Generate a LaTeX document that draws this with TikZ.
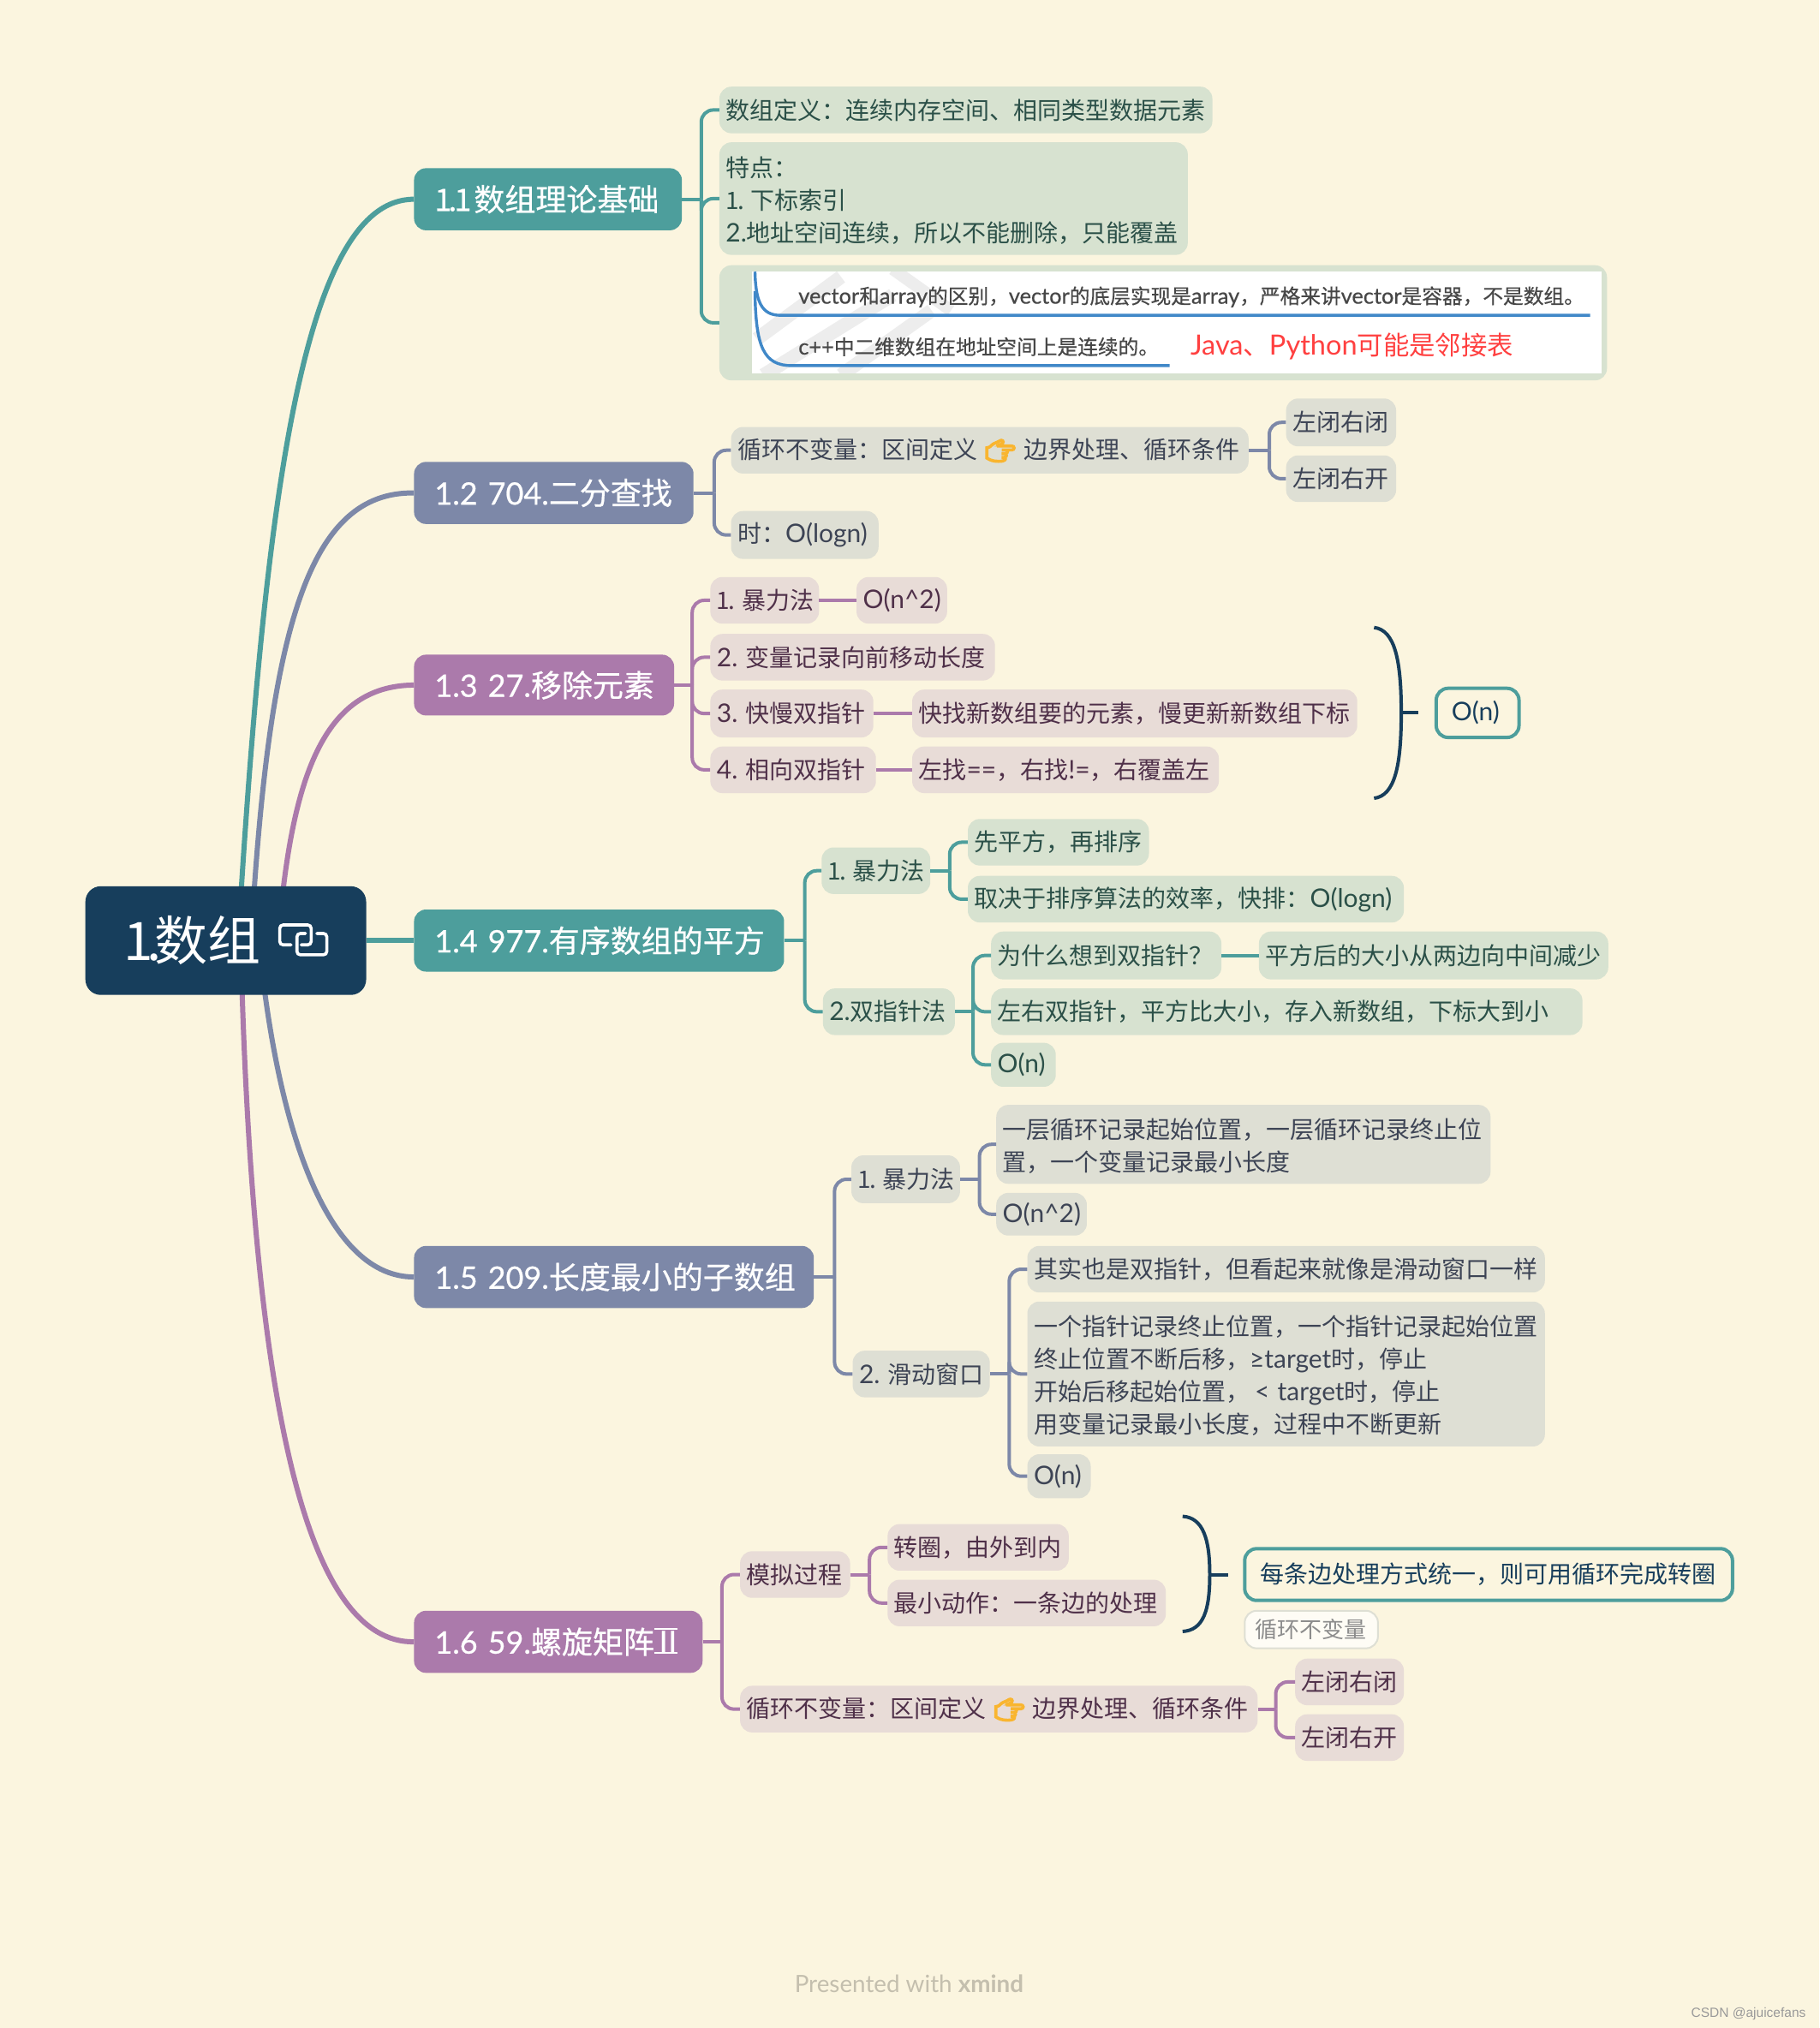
\documentclass[tikz,border=0pt]{standalone}
\usepackage{fontspec}
\setmainfont{Noto Sans CJK SC}
\newfontfamily\lath{Lato}
\newfontfamily\latb[Scale=1.07]{Lato}
\newfontfamily\headf[FakeBold=0.6]{Noto Sans CJK SC}
\newfontfamily\headl[FakeBold=0.6]{Lato}
\newfontfamily\imgf[FakeBold=0.5]{Noto Sans CJK SC}
\newfontfamily\imgl[FakeBold=0.5,Scale=1.07]{Lato}
\let\lat\latb
\newfontfamily\emo[FakeBold=9]{Noto Emoji}
\newfontfamily\markfont{Liberation Sans}
\newcommand{\Lt}[1]{{\lat #1}}
\newcommand{\One}{1\kern-1.5pt.\kern-2pt~}
\definecolor{bg}{HTML}{FBF5DF}
\definecolor{rootc}{HTML}{173E5C}
\definecolor{teal1}{HTML}{4D9E9C}
\definecolor{slate1}{HTML}{7D88A8}
\definecolor{purp1}{HTML}{AB7AAB}
\definecolor{tealL}{HTML}{D7E2D0}
\definecolor{slateL}{HTML}{DEDFD4}
\definecolor{purpL}{HTML}{E8DCD7}
\definecolor{tealT}{HTML}{2B5048}
\definecolor{slateT}{HTML}{3D4455}
\definecolor{purpT}{HTML}{4F3049}
\definecolor{imgblue}{HTML}{4088C8}
\definecolor{handc}{HTML}{F9B52F}
\tikzset{
  base/.style={rounded corners=14pt,inner ysep=0pt,align=left,font=\fontsize{28}{38}\selectfont},
  head/.style={base,font=\fontsize{36}{44}\selectfont,text=white,execute at begin node={\let\lat\headl\headf}},
  hteal/.style={head,fill=teal1},
  hslate/.style={head,fill=slate1},
  hpurp/.style={head,fill=purp1},
  lteal/.style={base,fill=tealL,text=tealT},
  lslate/.style={base,fill=slateL,text=slateT},
  lpurp/.style={base,fill=purpL,text=purpT},
  summ/.style={base,fill=bg,draw=teal1,line width=4pt,text=rootc},
  lab/.style={base,fill=white!70!bg,draw=slateL,line width=2pt,text=black!45,font=\fontsize{26}{32}\selectfont},
  conn/.style={line width=4pt},
  trunk/.style={line width=6pt},
  bracec/.style={line width=4pt,draw=rootc},
  imgtext/.style={inner sep=0pt,anchor=west,text=black!72,font=\fontsize{23.7}{28}\selectfont,execute at begin node={\let\lat\imgl\imgf}},
  foot/.style={inner sep=0pt,anchor=west},
}
\newcommand{\mk}[8]{%
  \pgfmathsetmacro\mkW{(#5-#3)*1.510669}%
  \pgfmathsetmacro\mkH{(#6-#4)*1.510669}%
  \pgfmathsetmacro\mkT{\mkW-2*#1}%
  \node[#7,minimum width=\mkW pt,minimum height=\mkH pt,inner xsep=#1pt,text width=\mkT pt] (#2) at ({(#3+#5)/2},{(#4+#6)/2}) {#8};}
\newcommand{\bx}{\mk{7.5}}
\newcommand{\hdr}{\mk{24}}
\newcommand{\lift}{\rule{0pt}{27.6pt}}
% stub from parent to spine + rounded elbows to children
\newcommand{\stub}[3]{\coordinate (sptmp) at (#3,0); \draw[conn,#1] (#2.east) -- (#2.east -| sptmp);}
\newcommand{\elb}[3]{\draw[conn,#1,rounded corners=14pt] (#2.east -| sptmp) |- (#3.west);}
\newcommand{\str}[3]{\draw[conn,#1] (#2.east) -- (#3.west);}
\begin{document}
\begin{tikzpicture}[x=1.510669pt,y=-1.510669pt]
\fill[bg] (0,0) rectangle (1406,1567.5);
\useasboundingbox (0,0) rectangle (1406,1567.5);

% free starts of the main branches, hidden under the root
\coordinate (rs1) at (184,727);
\coordinate (rs2) at (194,727);
\coordinate (rs3) at (215,727);
\coordinate (rs5) at (200,727);
\coordinate (rs6) at (186,727);

% nodes
\hdr{n11}{320}{130}{527}{178}{hteal}{1\kern-4pt.\kern-3pt 1\kern-9pt~数组理论基础}
\hdr{n12}{320}{357}{536}{405}{hslate}{\Lt{1.2~704.}二分查找}
\hdr{n13}{320}{506}{521}{553}{hpurp}{\Lt{1.3~27.}移除元素}
\hdr{n14}{320}{703}{606}{751}{hteal}{\Lt{1.4~977.}有序数组的平方}
\hdr{n15}{320}{963}{629}{1011}{hslate}{\Lt{1.5~209.}长度最小的子数组}
\hdr{n16}{320}{1245}{543}{1293}{hpurp}{\Lt{1.6~59.}螺旋矩阵\kern-2pt Ⅱ}
% serifs of the roman numeral
\draw[white,line width=2.5pt] (505.7,1259) -- (523.6,1259);
\draw[white,line width=2.5pt] (505.7,1277.6) -- (523.6,1277.6);

% root connectors
\draw[trunk,teal1] (rs1) .. controls (205,380) and (235,154) .. (n11.west);
\draw[trunk,slate1] (rs2) .. controls (208,480) and (240,380) .. (n12.west);
\draw[trunk,purp1] (rs3) .. controls (225,600) and (250,530) .. (n13.west);
\draw[trunk,slate1] (rs5) .. controls (215,880) and (255,987) .. (n15.west);
\draw[trunk,purp1] (rs6) .. controls (195,1100) and (240,1270) .. (n16.west);

\mk{45}{root}{66}{685}{283}{769}{base,rounded corners=18pt,fill=rootc,text=white,font=\fontsize{62}{70}\selectfont}{1\kern-8pt.\kern-8pt 数组}
\draw[trunk,teal1] (root.east) -- (n14.west);
% link icon
\draw[white,line width=3.6pt,rounded corners=4pt,line cap=round] (225,730.3) -- (216.2,730.3) -- (216.2,714.9) -- (240.5,714.9) -- (240.5,730.3) -- (232.8,730.3);
\draw[white,line width=3.6pt,rounded corners=4pt,line cap=round] (236.1,721.5) -- (229.5,721.5) -- (229.5,738) -- (252.6,738) -- (252.6,721.5) -- (244.9,721.5);

% 1.1
\bx{a1}{556}{67}{937}{103}{lteal}{数组定义：连续内存空间、相同类型数据元素}
\bx{a2}{556}{110}{918}{197}{lteal}{\lift 特点：\\\One 下标索引\\\Lt{2.}地址空间连续，所以不能删除，只能覆盖}
\bx{a3}{556}{205}{1242}{294}{base,fill=tealL}{}
\stub{teal1}{n11}{542}
\elb{teal1}{n11}{a1}\elb{teal1}{n11}{a2}\elb{teal1}{n11}{a3}
% image inside a3
\begin{scope}
\clip (581,210) rectangle (1238,288.6);
\fill[white] (581,210) rectangle (1238,288.6);
\draw[black!7,line width=16pt] (585,262) -- (650,214);
\draw[black!7,line width=16pt] (590,290) -- (690,228);
\draw[black!7,line width=16pt] (650,290) -- (720,240);
\draw[black!7,line width=14pt] (690,208) -- (735,240);
\draw[imgblue,line width=3.4pt] (583.5,210) .. controls (584,232) and (588,243.7) .. (603,243.7) -- (1229,243.7);
\draw[imgblue,line width=3.4pt] (583.5,225) .. controls (584,268) and (590,282.6) .. (612,282.6) -- (904,282.6);
\end{scope}
\node[imgtext] (i1) at (617,229.5) {\Lt{vector}和\Lt{array}的区别，\Lt{vector}的底层实现是\Lt{array}，严格来讲\Lt{vector}是容器，不是数组。};
\node[imgtext] (i2) at (617,268) {\Lt{c++}中二维数组在地址空间上是连续的。};
\node[inner sep=0pt,anchor=west,text=red!75!white,font=\fontsize{30.4}{36}\selectfont] (i3) at (920,268) {\Lt{Java}、\Lt{Python}可能是邻接表};

% 1.2
\bx{b1}{565}{330}{965}{366}{lslate}{循环不变量：区间定义~{\emo\color{handc}👉}~边界处理、循环条件}
\bx{b2}{565}{395}{679}{432}{lslate}{时：\Lt{O(logn)}}
\bx{b3}{994}{308}{1079}{345}{lslate}{左闭右闭}
\bx{b4}{994}{352}{1079}{388}{lslate}{左闭右开}
\stub{slate1}{n12}{552}
\elb{slate1}{n12}{b1}\elb{slate1}{n12}{b2}
\stub{slate1}{b1}{981}
\elb{slate1}{b1}{b3}\elb{slate1}{b1}{b4}

% 1.3
\bx{c1}{549}{446}{633}{482}{lpurp}{\One 暴力法}
\bx{c1a}{662}{446}{732}{482}{lpurp}{\Lt{O(n\^{}2)}}
\bx{c2}{549}{490}{769}{526}{lpurp}{\Lt{2.~}变量记录向前移动长度}
\bx{c3}{549}{533}{675}{570}{lpurp}{\Lt{3.~}快慢双指针}
\bx{c3a}{705}{533}{1049}{570}{lpurp}{快找新数组要的元素，慢更新新数组下标}
\bx{c4}{549}{577}{677}{613}{lpurp}{\Lt{4.~}相向双指针}
\bx{c4a}{705}{577}{942}{613}{lpurp}{左找\Lt{==}，右找\Lt{!=}，右覆盖左}
\stub{purp1}{n13}{535}
\elb{purp1}{n13}{c1}\elb{purp1}{n13}{c2}\elb{purp1}{n13}{c3}\elb{purp1}{n13}{c4}
\str{purp1}{c1}{c1a}\str{purp1}{c3}{c3a}\str{purp1}{c4}{c4a}
\mk{18}{c5}{1110}{532}{1174}{570}{summ}{\Lt{O(n)}}
\coordinate (br1t) at (1062,485);
\coordinate (br1m) at (1083,551);
\coordinate (br1b) at (1062,617);
\coordinate (br1x) at (1096,551);
\draw[bracec] (br1t) .. controls (1078,487) and (1083,510) .. (br1m) .. controls (1083,592) and (1078,615) .. (br1b);
\draw[bracec] (br1m) -- (br1x);

% 1.4
\bx{d1}{635}{655}{719}{691}{lteal}{\One 暴力法}
\bx{d2}{636}{764}{738}{800}{lteal}{\Lt{2.}双指针法}
\bx{d1a}{748}{633}{888}{669}{lteal}{先平方，再排序}
\bx{d1b}{748}{677}{1085}{713}{lteal}{取决于排序算法的效率，快排：\Lt{O(logn)}}
\bx{d2a}{766}{720}{944}{757}{lteal}{为什么想到双指针？}
\bx{d2x}{973}{720}{1243}{757}{lteal}{平方后的大小从两边向中间减少}
\bx{d2b}{766}{764}{1223}{800}{lteal}{左右双指针，平方比大小，存入新数组，下标大到小}
\bx{d2c}{766}{806}{816}{840}{lteal}{\Lt{O(n)}}
\stub{teal1}{n14}{622}
\elb{teal1}{n14}{d1}\elb{teal1}{n14}{d2}
\stub{teal1}{d1}{734}
\elb{teal1}{d1}{d1a}\elb{teal1}{d1}{d1b}
\stub{teal1}{d2}{752}
\elb{teal1}{d2}{d2a}\elb{teal1}{d2}{d2b}\elb{teal1}{d2}{d2c}
\str{teal1}{d2a}{d2x}

% 1.5
\bx{e1}{658}{893}{742}{930}{lslate}{\One 暴力法}
\bx{e2}{659}{1044}{765}{1080}{lslate}{\Lt{2.~}滑动窗口}
\bx{e1a}{770}{854}{1152}{915}{lslate}{\lift 一层循环记录起始位置，一层循环记录终止位\\置，一个变量记录最小长度}
\bx{e1b}{770}{922}{840}{955}{lslate}{\Lt{O(n\^{}2)}}
\bx{e2a}{794}{963}{1194}{999}{lslate}{其实也是双指针，但看起来就像是滑动窗口一样}
\bx{e2b}{794}{1006}{1194}{1118}{lslate}{\lift 一个指针记录终止位置，一个指针记录起始位置\\终止位置不断后移，\Lt{≥target}时，停止\\开始后移起始位置，\Lt{\hspace{6pt}<~target}时，停止\\用变量记录最小长度，过程中不断更新}
\bx{e2c}{794}{1124}{843}{1158}{lslate}{\Lt{O(n)}}
\stub{slate1}{n15}{645}
\elb{slate1}{n15}{e1}\elb{slate1}{n15}{e2}
\stub{slate1}{e1}{757}
\elb{slate1}{e1}{e1a}\elb{slate1}{e1}{e1b}
\stub{slate1}{e2}{780}
\elb{slate1}{e2}{e2a}\elb{slate1}{e2}{e2b}\elb{slate1}{e2}{e2c}

% 1.6
\bx{f1}{572}{1199}{657}{1235}{lpurp}{模拟过程}
\bx{f2}{572}{1303}{972}{1339}{lpurp}{循环不变量：区间定义~{\emo\color{handc}👉}~边界处理、循环条件}
\bx{f1a}{686}{1178}{826}{1214}{lpurp}{转圈，由外到内}
\bx{f1b}{686}{1221}{901}{1257}{lpurp}{最小动作：一条边的处理}
\bx{f2a}{1001}{1282}{1085}{1318}{lpurp}{左闭右闭}
\bx{f2b}{1001}{1325}{1085}{1361}{lpurp}{左闭右开}
\stub{purp1}{n16}{558}
\elb{purp1}{n16}{f1}\elb{purp1}{n16}{f2}
\stub{purp1}{f1}{672}
\elb{purp1}{f1}{f1a}\elb{purp1}{f1}{f1b}
\stub{purp1}{f2}{986}
\elb{purp1}{f2}{f2a}\elb{purp1}{f2}{f2b}
\mk{18}{f3}{962}{1197}{1339}{1237}{summ}{每条边处理方式统一，则可用循环完成转圈}
\mk{12}{f4}{962}{1245}{1065}{1274}{lab}{循环不变量}
\coordinate (br2t) at (914,1172);
\coordinate (br2m) at (935,1217);
\coordinate (br2b) at (914,1261);
\coordinate (br2x) at (949,1217);
\draw[bracec] (br2t) .. controls (930,1173) and (935,1190) .. (br2m) .. controls (935,1245) and (930,1260) .. (br2b);
\draw[bracec] (br2m) -- (br2x);

% footer
\node[foot,text=black!22!bg,font=\fontsize{27.8}{32}\selectfont] (ft1) at (614,1533.5) {{\lath Presented with {\bfseries xmind}}};
\node[foot,text=black!40,font=\fontsize{15.5}{18}\markfont] (ft2) at (1307,1556.5) {CSDN @ajuicefans};
\end{tikzpicture}
\end{document}
